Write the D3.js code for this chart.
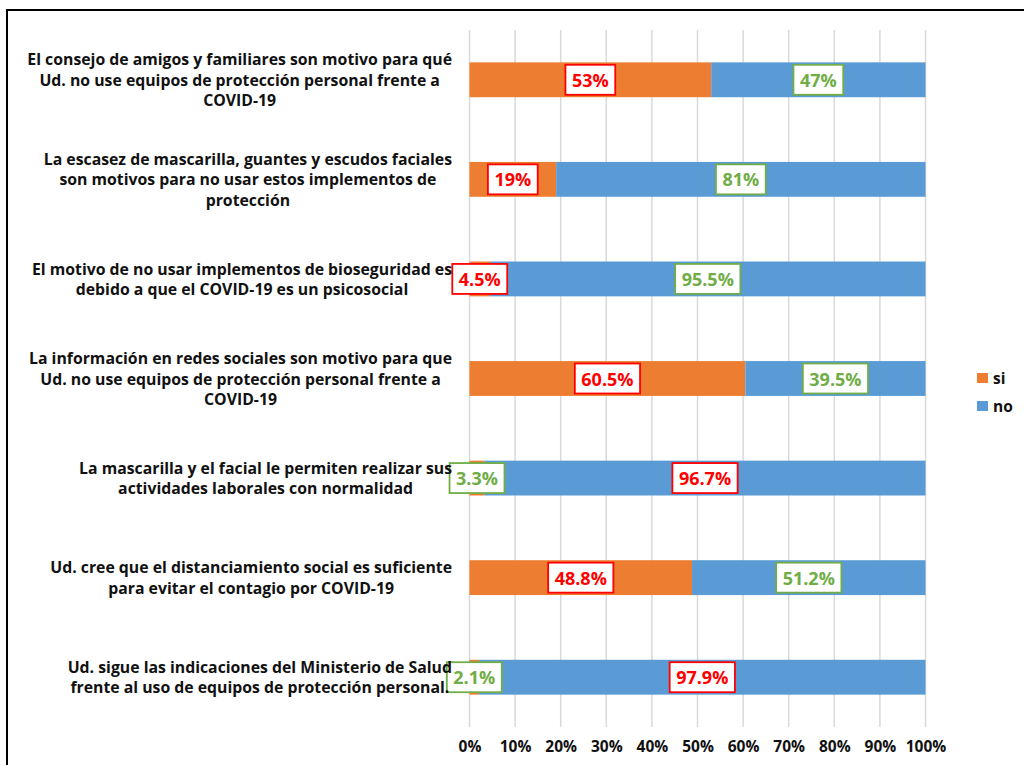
<!DOCTYPE html>
<html><head><meta charset="utf-8">
<script src="https://cdn.jsdelivr.net/npm/d3@7"></script>
<style>
html,body{margin:0;padding:0;background:#fff;}
svg{display:block;font-family:"Open Sans",Lato,sans-serif;}
</style></head>
<body>
<svg id="chart" width="1024" height="765"></svg>
<script>
// ---- data ----
const categories = [
  ["El consejo de amigos y familiares son motivo para qué","Ud. no use equipos de protección personal frente a","COVID-19"],
  ["La escasez de mascarilla, guantes y escudos faciales","son motivos para no usar estos implementos de","protección"],
  ["El motivo de no usar implementos de bioseguridad es","debido a que el COVID-19 es un psicosocial"],
  ["La información en redes sociales son motivo para que","Ud. no use equipos de protección personal frente a","COVID-19"],
  ["La mascarilla y el facial le permiten realizar sus","actividades laborales con normalidad"],
  ["Ud. cree que el distanciamiento social es suficiente","para evitar el contagio por COVID-19"],
  ["Ud. sigue las indicaciones del Ministerio de Salud","frente al uso de equipos de protección personal."]
];
const siValues = [53, 19, 4.5, 60.5, 3.3, 48.8, 2.1];
const noValues = [47, 81, 95.5, 39.5, 96.7, 51.2, 97.9];
const seriesNames = ["si", "no"];
const xTicks = [0,10,20,30,40,50,60,70,80,90,100];
// label box colour key per row for the "si" label (the "no" label takes the other)
const siLabelKey = ["red","red","red","red","green","red","green"];

// ---- styles ----
const C = {si:"#ED7D31", no:"#5B9BD5", red:"#FF0000", green:"#70AD47", grid:"#D9D9D9", text:"#111"};
const FONT = "'Open Sans',Lato,sans-serif";

const svg = d3.select("#chart");
// frame
svg.append("rect").attr("x",7).attr("y",10).attr("width",1030).attr("height",770)
  .attr("fill","none").attr("stroke","#000").attr("stroke-width",2);

const x = d3.scaleLinear().domain([0,100]).range([469.5,925.5]);
const y = d3.scaleBand().domain(d3.range(categories.length)).range([30,727]).paddingInner(0.65).paddingOuter(0.325);

// gridlines
svg.append("g").selectAll("line").data(xTicks).join("line")
  .attr("x1",d=>x(d)).attr("x2",d=>x(d)).attr("y1",30).attr("y2",727)
  .attr("stroke",C.grid).attr("stroke-width",1.5);

// x axis labels
const xAxis = d3.axisBottom(x).tickValues(xTicks).tickFormat(d=>d+"%").tickSize(0).tickPadding(0);
const gx = svg.append("g").attr("transform","translate(0,741)").call(xAxis);
gx.select(".domain").remove();
gx.selectAll("text").attr("font-size","15.5px").attr("font-weight","bold").attr("fill",C.text)
  .attr("font-family",FONT);

// stacked data
const rows = categories.map((c,i)=>({i, si:siValues[i], no:noValues[i]}));
const stack = d3.stack().keys(seriesNames)(rows);

const gBars = svg.append("g");
stack.forEach(layer=>{
  gBars.append("g").attr("fill",C[layer.key]).selectAll("rect").data(layer).join("rect")
    .attr("x",d=>x(d[0])).attr("width",d=>x(d[1])-x(d[0]))
    .attr("y",(d,i)=>y(i)).attr("height",y.bandwidth());
});

// data labels
const gLab = svg.append("g");
stack.forEach(layer=>{
  layer.forEach((d,i)=>{
    const v = d.data[layer.key];
    const key = layer.key==="si" ? siLabelKey[i] : (siLabelKey[i]==="red"?"green":"red");
    const col = C[key];
    const cx = x((d[0]+d[1])/2), cy = y(i)+y.bandwidth()/2;
    const g = gLab.append("g");
    const rect = g.append("rect").attr("fill","#fff").attr("stroke",col).attr("stroke-width",1.8);
    const t = g.append("text").attr("x",cx).attr("y",cy).attr("text-anchor","middle")
      .attr("dominant-baseline","central").attr("font-size","18px").attr("font-weight","bold")
      .attr("font-family",FONT).attr("fill",col).text(v+"%");
    const w = t.node().getComputedTextLength()+13;
    rect.attr("x",cx-w/2).attr("y",cy-15).attr("width",w).attr("height",30);
  });
});

// category labels: block right-aligned, lines centered within block
const gCat = svg.append("g");
const lineH = 20.5, rightEdge = 452;
categories.forEach((lines,i)=>{
  const g = gCat.append("g");
  const cy = y(i)+y.bandwidth()/2;
  const texts = lines.map((ln,k)=>g.append("text").attr("font-size","15.8px").attr("font-weight","bold")
     .attr("font-family",FONT).attr("fill",C.text).attr("text-anchor","middle").attr("dominant-baseline","central")
     .attr("y",cy+(k-(lines.length-1)/2)*lineH).text(ln));
  const maxW = d3.max(texts,t=>t.node().getComputedTextLength());
  texts.forEach(t=>t.attr("x",rightEdge-maxW/2));
});

// legend
const gLeg = svg.append("g");
seriesNames.forEach((s,k)=>{
  const yy = 378 + k*28;
  gLeg.append("rect").attr("x",977).attr("y",yy-5).attr("width",11).attr("height",10).attr("fill",C[s]);
  gLeg.append("text").attr("x",993).attr("y",yy).attr("dominant-baseline","central")
    .attr("font-size","15.5px").attr("font-weight","bold").attr("font-family",FONT).attr("fill",C.text).text(s);
});
</script>
</body></html>
